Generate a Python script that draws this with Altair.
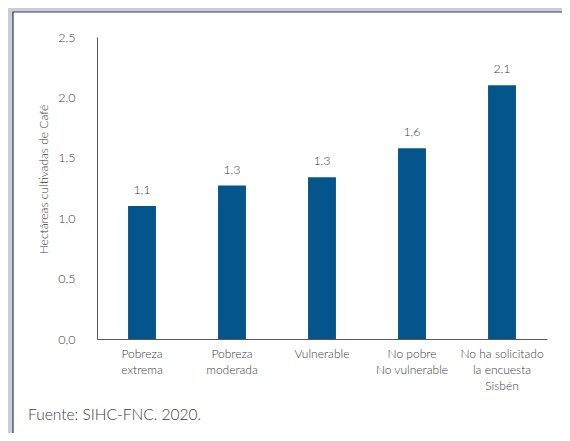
import altair as alt
import pandas as pd

categories = [
    "Pobreza|extrema",
    "Pobreza|moderada",
    "Vulnerable",
    "No pobre|No vulnerable",
    "No ha solicitado|la encuesta|Sisbén",
]
values = [1.10, 1.27, 1.34, 1.58, 2.10]
y_ticks = [0.0, 0.5, 1.0, 1.5, 2.0, 2.5]
y_title = "Hectáreas cultivadas de Café"
source_note = "Fuente: SIHC-FNC. 2020."

df = pd.DataFrame({"cat": categories, "val": values})

FONT = "Lato"
W = 300
TXT = "#3c3c3c"
BAR = "#04558B"

panel = alt.Chart(alt.Data(values=[{"p": 1}])).mark_rect(
    fill="white", stroke="#3a3a3a", strokeWidth=1.2
).encode(
    x=alt.value(-84), x2=alt.value(500), y=alt.value(-25), y2=alt.value(420)
)

x_enc = alt.X(
    "cat:N",
    sort=categories,
    scale=alt.Scale(paddingInner=0.69, paddingOuter=0.345),
    axis=alt.Axis(
        title=None,
        labelAngle=0,
        labelExpr="split(datum.value, '|')",
        ticks=False,
        tickSize=0,
        labelPadding=9,
        labelFont=FONT,
        labelFontSize=12,
        labelFontWeight=W,
        labelColor=TXT,
        labelLineHeight=16,
        domainColor="#595959",
        zindex=1,
    ),
)

y_enc = alt.Y(
    "val:Q",
    scale=alt.Scale(domain=[0, 2.5], nice=False),
    axis=alt.Axis(
        values=y_ticks,
        labelExpr="replace(format(datum.value, '.1f'), '.', ',')",
        grid=False,
        ticks=False,
        tickSize=0,
        labelPadding=22,
        labelFont=FONT,
        labelFontSize=12.5,
        labelFontWeight=W,
        labelColor=TXT,
        domainColor="#595959",
        title=y_title,
        titleFont=FONT,
        titleFontSize=12,
        titleFontWeight=W,
        titleColor=TXT,
        titleAngle=270,
        titleAlign="center",
        titleBaseline="middle",
        titleX=-54,
        titleY=142,
        zindex=1,
    ),
)

bars = alt.Chart(df).mark_bar(color=BAR).encode(x=x_enc, y=y_enc)

labels = alt.Chart(df).transform_calculate(
    lbl="replace(format(datum.val, '.1f'), '.', ',')"
).mark_text(
    dy=-16, baseline="middle", font=FONT, fontSize=12.5, fontWeight=W, color=TXT
).encode(
    x=alt.X("cat:N", sort=categories),
    y=alt.Y("val:Q"),
    text="lbl:N",
)

note = alt.Chart(alt.Data(values=[{"t": source_note}])).mark_text(
    align="left", baseline="middle", font=FONT, fontSize=15.5, fontWeight=W, color=TXT
).encode(x=alt.value(-69), y=alt.value(378), text="t:N")

chart = alt.layer(panel, bars, labels, note).properties(
    width=450,
    height=302,
    autosize=alt.AutoSizeParams(type="none"),
    padding={"left": 89, "top": 29, "right": 15, "bottom": 94},
    background="#C8CCE0",
).configure_view(stroke=None)

chart.save("out.html", embed_options={"renderer": "svg", "actions": False})
